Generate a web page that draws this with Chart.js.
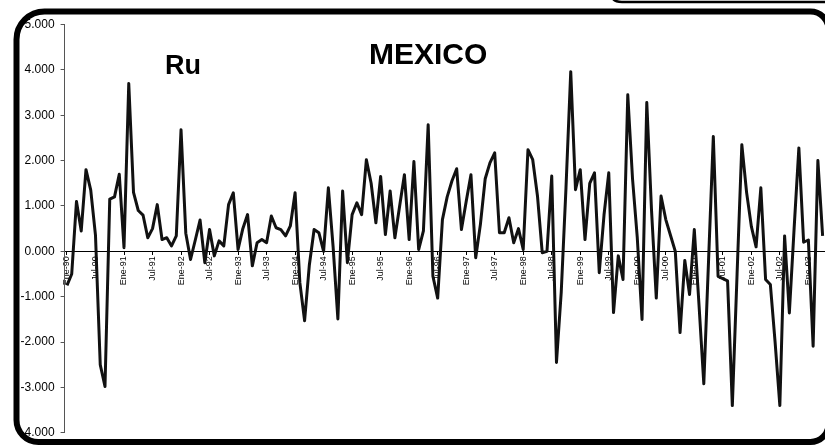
<!DOCTYPE html>
<html>
<head>
<meta charset="utf-8">
<title>MEXICO</title>
<script src="https://cdn.jsdelivr.net/npm/chart.js@4/dist/chart.umd.min.js"></script>
<style>
  html, body { margin: 0; padding: 0; background: #fff; overflow: hidden; }
  #wrap { position: relative; width: 825px; height: 446px; }
</style>
</head>
<body>
<div id="wrap"><canvas id="c" width="825" height="446"></canvas></div>
<script>
// Monthly series, Ene-90 .. Abr-03
const monthNames = ['Ene', 'Feb', 'Mar', 'Abr', 'May', 'Jun', 'Jul', 'Ago', 'Sep', 'Oct', 'Nov', 'Dic'];
const firstYear = 1990;

const values = [
  -0.75, -0.50, 1.10, 0.45, 1.80, 1.35, 0.35, -2.50, -2.98, 1.15, 1.20, 1.70,
  0.08, 3.70, 1.30, 0.90, 0.80, 0.30, 0.50, 1.03, 0.26, 0.30, 0.12, 0.34,
  2.68, 0.40, -0.18, 0.25, 0.69, -0.25, 0.48, -0.10, 0.23, 0.12, 1.03, 1.29,
  0.04, 0.50, 0.81, -0.32, 0.19, 0.26, 0.19, 0.78, 0.52, 0.48, 0.34, 0.56,
  1.29, -0.69, -1.53, -0.30, 0.48, 0.41, 0.00, 1.40, 0.10, -1.49, 1.33, -0.25,
  0.81, 1.07, 0.81, 2.02, 1.50, 0.63, 1.65, 0.37, 1.33, 0.30, 1.00, 1.69,
  0.26, 1.98, 0.04, 0.45, 2.79, -0.55, -1.03, 0.70, 1.20, 1.55, 1.82, 0.48,
  1.10, 1.69, -0.14, 0.60, 1.60, 1.95, 2.17, 0.41, 0.41, 0.74, 0.19, 0.50,
  0.04, 2.24, 2.02, 1.22, -0.03, 0.00, 1.66, -2.45, -0.90, 1.40, 3.96, 1.36,
  1.80, 0.26, 1.50, 1.73, -0.47, 0.80, 1.73, -1.35, -0.10, -0.62, 3.45, 1.60,
  0.30, -1.50, 3.28, 0.90, -1.03, 1.22, 0.70, 0.35, 0.00, -1.79, -0.20, -0.95,
  0.48, -1.20, -2.92, -0.20, 2.53, -0.55, -0.60, -0.65, -3.40, -0.50, 2.35, 1.30,
  0.55, 0.10, 1.40, -0.62, -0.73, -2.00, -3.40, 0.34, -1.36, 0.50, 2.28, 0.20,
  0.25, -2.09, 2.00, 0.34
];

// Category labels, one per month
const months = values.map((_, i) =>
  monthNames[i % 12] + '-' + String((firstYear + Math.floor(i / 12)) % 100).padStart(2, '0'));

// Labels written on the category axis
const tickLabels = [
  'Ene-90', 'Jul-90', 'Ene-91', 'Jul-91', 'Ene-92', 'Jul-92', 'Ene-93', 'Jul-93',
  'Ene-94', 'Jul-94', 'Ene-95', 'Jul-95', 'Ene-96', 'Jul-96', 'Ene-97', 'Jul-97',
  'Ene-98', 'Jul-98', 'Ene-99', 'Jul-99', 'Ene-00', 'Jul-00', 'Ene-01', 'Jul-01',
  'Ene-02', 'Jul-02', 'Ene-03'
];

const yMin = -4, yMax = 5, yStep = 1;

const titleText = 'MEXICO';
const sideText = 'Ru';

// Rounded frame and headings drawn over the chart
const framePlugin = {
  id: 'frame',
  afterDraw(chart) {
    const ctx = chart.ctx;
    ctx.save();
    ctx.fillStyle = '#000';
    ctx.textBaseline = 'alphabetic';
    ctx.textAlign = 'left';
    ctx.font = 'bold 30px "Liberation Sans", Arial, sans-serif';
    ctx.fillText(titleText, 369, 64);
    ctx.font = 'bold 27px "Liberation Sans", Arial, sans-serif';
    ctx.fillText(sideText, 165, 74);

    ctx.strokeStyle = '#000';
    ctx.lineWidth = 6;
    ctx.beginPath();
    ctx.roundRect(16.5, 11.5, 812, 430.5, [28, 18, 18, 22]);
    ctx.stroke();

    // edge of the neighbouring panel above
    ctx.lineWidth = 2.5;
    ctx.beginPath();
    ctx.moveTo(611, -6);
    ctx.quadraticCurveTo(612, 2, 622, 2);
    ctx.lineTo(830, 2);
    ctx.stroke();
    ctx.restore();
  }
};

new Chart(document.getElementById('c'), {
  type: 'line',
  data: {
    labels: months,
    datasets: [{
      data: values,
      borderColor: '#111',
      borderWidth: 3,
      borderJoinStyle: 'round',
      pointRadius: 0,
      tension: 0,
      fill: false
    }]
  },
  options: {
    responsive: false,
    animation: false,
    layout: { padding: { left: 0, right: 0, top: 24.5, bottom: 12.5 } },
    plugins: {
      legend: { display: false },
      tooltip: { enabled: false }
    },
    scales: {
      x: {
        type: 'category',
        position: { y: 0 },
        offset: true,
        border: { display: true, color: '#000', width: 1 },
        grid: { drawOnChartArea: false, drawTicks: true, tickLength: 3, color: '#000' },
        ticks: {
          autoSkip: false,
          minRotation: 90,
          maxRotation: 90,
          padding: 2,
          color: '#000',
          font: { family: '"Liberation Sans", Arial, sans-serif', size: 9 },
          callback: function (value) {
            const l = this.getLabelForValue(value);
            return tickLabels.includes(l) ? l : null;
          }
        }
      },
      y: {
        min: yMin,
        max: yMax,
        border: { display: true, color: '#555', width: 1 },
        grid: { drawOnChartArea: false, drawTicks: true, tickLength: 4, color: '#555' },
        ticks: {
          stepSize: yStep,
          padding: 6,
          color: '#000',
          font: { family: '"Liberation Sans", Arial, sans-serif', size: 12 },
          callback: v => Number(v).toFixed(3)
        },
        afterFit: s => { s.width = 64.6; }
      }
    }
  },
  plugins: [framePlugin]
});
</script>
</body>
</html>
